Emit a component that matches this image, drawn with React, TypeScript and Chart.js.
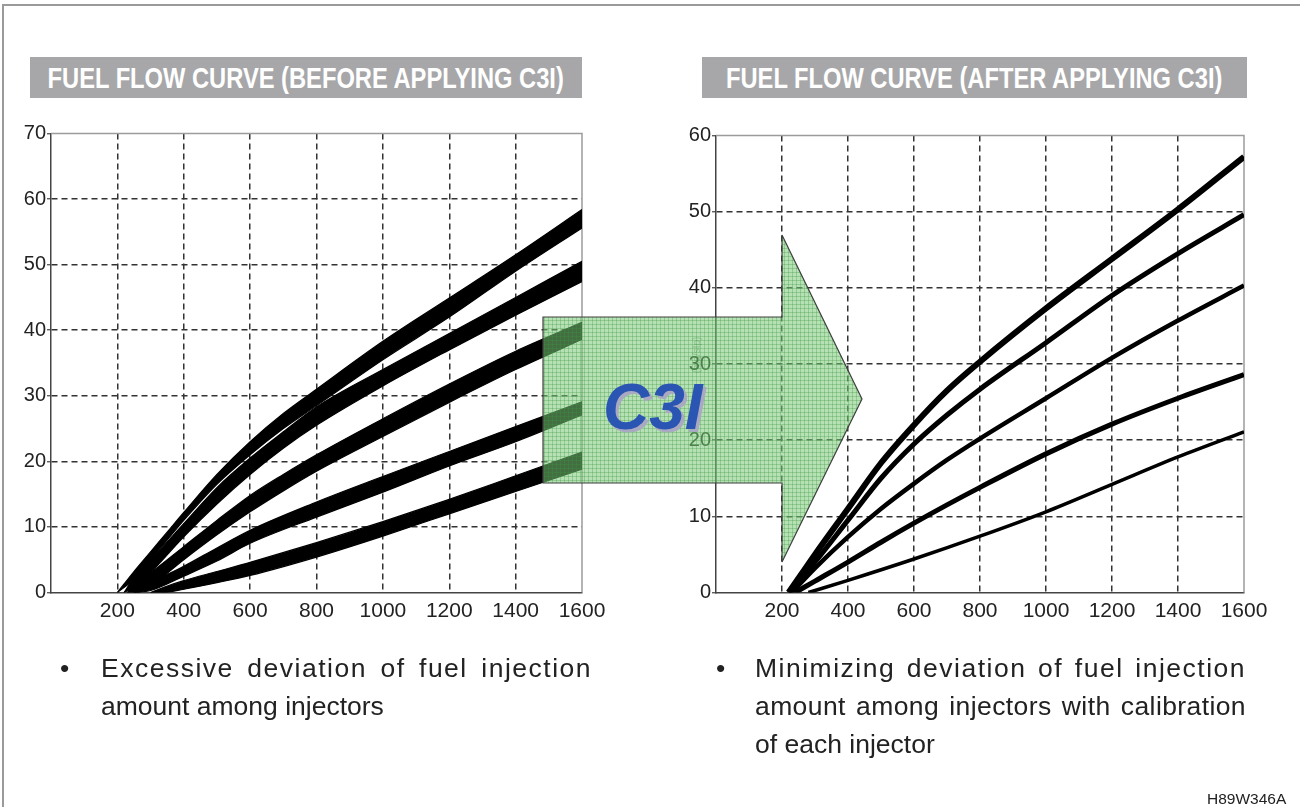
import React, { useEffect, useRef } from 'react';
import { Chart, registerables } from 'chart.js';

Chart.register(...registerables);

const FONT = '"Liberation Sans", Arial, Helvetica, sans-serif';

// ---------- shared axis values ----------
const xTickStep = 200;
const xMax = 1600;
const beforeYMax = 70;
const afterYMax = 60;
const yTickStep = 10;

// ---------- BEFORE (left) : five bundles, each given by upper / lower edge ----------
const beforeB1X = [200, 250, 300, 350, 400, 500, 600, 700, 800, 1000, 1200, 1400, 1600];
const beforeB1Top = [0, 3.2, 6.2, 9.2, 12.2, 18, 23, 27.3, 31, 38.3, 44.9, 51.5, 58.4];
const beforeB1Bottom = [0, 2, 5, 8, 11, 16.5, 21, 25, 28.5, 35.5, 42, 49, 55.6];

const beforeB2X = [220, 260, 300, 400, 500, 600, 700, 800, 1000, 1200, 1400, 1600];
const beforeB2Top = [0, 3, 5, 10.5, 16, 20.5, 24.5, 28.3, 34, 39.5, 45, 50.5];
const beforeB2Bottom = [0, 1, 3, 8.5, 13.5, 18, 22, 25.5, 31.5, 37, 42.3, 47.4];

const beforeB3X = [230, 260, 300, 400, 500, 600, 700, 800, 1000, 1200, 1400, 1600];
const beforeB3Top = [0, 1.5, 3, 7, 11, 14.8, 18, 21, 26.5, 31.8, 36.8, 41.2];
const beforeB3Bottom = [0, 0, 1, 5, 8.8, 12.3, 15.5, 18.5, 23.8, 29, 34, 38.6];

const beforeB4X = [250, 300, 400, 500, 600, 800, 1000, 1200, 1400, 1600];
const beforeB4Top = [0, 1.5, 4, 6.8, 9.5, 13.8, 17.7, 21.5, 25.3, 29.1];
const beforeB4Bottom = [0, 0.3, 2.5, 4.8, 7.5, 11.5, 15.3, 19.3, 23, 27.1];

const beforeB5X = [300, 340, 400, 500, 600, 800, 1000, 1200, 1400, 1600];
const beforeB5Top = [0, 0.8, 1.8, 3.2, 4.6, 7.6, 10.8, 14.2, 17.8, 21.4];
const beforeB5Bottom = [0, 0, 0.5, 1.5, 2.6, 5.4, 8.6, 12, 15.4, 18.8];

// ---------- AFTER (right) : five calibrated curves ----------
const afterAX = [220, 260, 300, 400, 500, 600, 700, 800, 1000, 1200, 1400, 1600];
const afterAY = [0, 2.5, 5, 11, 17, 22, 26.5, 30.3, 37.3, 43.8, 50.3, 57.2];

const afterBX = [220, 260, 300, 400, 500, 600, 700, 800, 1000, 1200, 1400, 1600];
const afterBY = [0, 2, 4, 9.5, 15, 19.5, 23.3, 26.7, 32.8, 39, 44.5, 49.6];

const afterCX = [230, 300, 400, 500, 600, 700, 800, 1000, 1200, 1400, 1600];
const afterCY = [0, 3.2, 7.3, 11, 14.3, 17.4, 20.2, 25.5, 30.8, 35.7, 40.3];

const afterDX = [240, 300, 400, 500, 600, 700, 800, 1000, 1200, 1400, 1600];
const afterDY = [0, 1.5, 4, 6.6, 9.1, 11.5, 13.8, 18.2, 22.1, 25.5, 28.6];

const afterEX = [280, 400, 600, 800, 1000, 1200, 1400, 1600];
const afterEY = [0, 1.6, 4.4, 7.4, 10.6, 14.2, 17.8, 21.1];

const beforeBands = [
  [beforeB1X, beforeB1Top, beforeB1Bottom],
  [beforeB2X, beforeB2Top, beforeB2Bottom],
  [beforeB3X, beforeB3Top, beforeB3Bottom],
  [beforeB4X, beforeB4Top, beforeB4Bottom],
  [beforeB5X, beforeB5Top, beforeB5Bottom],
];

const afterCurves = [
  [afterAX, afterAY, 6],
  [afterBX, afterBY, 5],
  [afterCX, afterCY, 4.5],
  [afterDX, afterDY, 5],
  [afterEX, afterEY, 3.5],
];

const toPts = (xs: number[], ys: number[]) => xs.map((x, i) => ({ x, y: ys[i] }));

const framePlugin = {
  id: 'frameTopRight',
  beforeDatasetsDraw(chart: any) {
    const { ctx, chartArea: a } = chart;
    ctx.save();
    ctx.strokeStyle = '#9c9c9c';
    ctx.lineWidth = 1.5;
    ctx.beginPath();
    ctx.moveTo(a.left, a.top);
    ctx.lineTo(a.right, a.top);
    ctx.lineTo(a.right, a.bottom);
    ctx.stroke();
    ctx.restore();
  },
};

function gridColor(max: number) {
  return (c: any) => {
    const v = c.tick ? c.tick.value : null;
    return v === 0 || v === max ? 'rgba(0,0,0,0)' : '#333';
  };
}

function makeConfig(opts: {
  datasets: any[];
  yMax: number;
  yAxisWidth: number;
  padTop: number;
  padRight: number;
  xAxisHeight: number;
}) {
  return {
    type: 'line',
    data: { datasets: opts.datasets },
    plugins: [framePlugin],
    options: {
      animation: false,
      responsive: false,
      events: [],
      layout: { padding: { top: opts.padTop, right: opts.padRight, left: 0, bottom: 0 } },
      plugins: { legend: { display: false }, tooltip: { enabled: false } },
      elements: { point: { radius: 0 } },
      scales: {
        x: {
          type: 'linear',
          min: 0,
          max: xMax,
          ticks: {
            stepSize: xTickStep,
            autoSkip: false,
            maxRotation: 0,
            padding: 6,
            color: '#222',
            font: { family: FONT, size: 21 },
            callback: (v: any) => (v === 0 ? '' : String(v)),
          },
          grid: { color: gridColor(xMax), lineWidth: 1.5, drawTicks: false },
          border: { display: true, color: '#444', width: 1.5, dash: [6, 4] },
          afterFit: (axis: any) => {
            axis.height = opts.xAxisHeight;
          },
        },
        y: {
          type: 'linear',
          min: 0,
          max: opts.yMax,
          ticks: {
            stepSize: yTickStep,
            padding: 1,
            color: '#222',
            font: { family: FONT, size: 20 },
          },
          grid: {
            color: gridColor(opts.yMax),
            lineWidth: 1.5,
            drawTicks: true,
            tickLength: 4,
            tickColor: '#444',
            tickWidth: 1.2,
          },
          border: { display: true, color: '#444', width: 1.5, dash: [6, 4] },
          afterFit: (axis: any) => {
            axis.width = opts.yAxisWidth;
          },
        },
      },
    },
  } as any;
}

function beforeDatasets() {
  const ds: any[] = [];
  beforeBands.forEach(([xs, top, bot]) => {
    ds.push({
      data: toPts(xs as number[], top as number[]),
      borderColor: '#000',
      borderWidth: 1.2,
      fill: false,
      cubicInterpolationMode: 'monotone',
      pointRadius: 0,
    });
    ds.push({
      data: toPts(xs as number[], bot as number[]),
      borderColor: '#000',
      borderWidth: 1.2,
      fill: '-1',
      backgroundColor: '#000',
      cubicInterpolationMode: 'monotone',
      pointRadius: 0,
    });
  });
  return ds;
}

function afterDatasets() {
  return afterCurves.map(([xs, ys, w]) => ({
    data: toPts(xs as number[], ys as number[]),
    borderColor: '#000',
    borderWidth: w as number,
    fill: false,
    cubicInterpolationMode: 'monotone',
    pointRadius: 0,
  }));
}

function ChartCanvas(props: { left: number; top: number; width: number; height: number; build: () => any }) {
  const ref = useRef<HTMLCanvasElement | null>(null);
  useEffect(() => {
    const chart = new Chart(ref.current as HTMLCanvasElement, props.build());
    return () => chart.destroy();
  }, []);
  return (
    <canvas
      ref={ref}
      width={props.width}
      height={props.height}
      style={{ position: 'absolute', left: props.left, top: props.top, width: props.width, height: props.height }}
    />
  );
}

const titleBox = (left: number, width: number, text: string) => (
  <div
    style={{
      position: 'absolute',
      left,
      top: 57,
      width,
      height: 41,
      background: '#a7a7a9',
      display: 'flex',
      justifyContent: 'center',
      alignItems: 'center',
      overflow: 'visible',
    }}
  >
    <span
      style={{
        display: 'inline-block',
        whiteSpace: 'nowrap',
        fontFamily: FONT,
        fontWeight: 'bold',
        fontSize: 30,
        lineHeight: '41px',
        color: '#fff',
        transform: 'scaleX(0.79)',
        transformOrigin: 'center',
      }}
    >
      {text}
    </span>
  </div>
);

const bodyText: React.CSSProperties = {
  fontFamily: FONT,
  fontSize: 26.5,
  lineHeight: '38px',
  color: '#222',
};

export default function App() {
  return (
    <div
      style={{
        position: 'absolute',
        left: 0,
        top: 0,
        width: 1300,
        height: 807,
        overflow: 'hidden',
        background: '#fff',
      }}
    >
      {/* frame of the figure */}
      <div style={{ position: 'absolute', left: 2, top: 4, width: 1300, height: 2, background: '#9a9a9a' }} />
      <div style={{ position: 'absolute', left: 2, top: 4, width: 2, height: 810, background: '#9a9a9a' }} />

      {titleBox(30, 552, 'FUEL FLOW CURVE (BEFORE APPLYING C3I)')}
      {titleBox(702, 545, 'FUEL FLOW CURVE (AFTER APPLYING C3I)')}

      <ChartCanvas
        left={0}
        top={100}
        width={620}
        height={540}
        build={() =>
          makeConfig({
            datasets: beforeDatasets(),
            yMax: beforeYMax,
            yAxisWidth: 51,
            padTop: 33.5,
            padRight: 38,
            xAxisHeight: 47.5,
          })
        }
      />
      <ChartCanvas
        left={660}
        top={100}
        width={620}
        height={540}
        build={() =>
          makeConfig({
            datasets: afterDatasets(),
            yMax: afterYMax,
            yAxisWidth: 56,
            padTop: 35.5,
            padRight: 36,
            xAxisHeight: 47.5,
          })
        }
      />

      {/* C3I arrow overlay */}
      <svg
        width={1300}
        height={807}
        style={{ position: 'absolute', left: 0, top: 0, pointerEvents: 'none' }}
      >
        <defs>
          <pattern id="c3iGrid" width="4" height="4" patternUnits="userSpaceOnUse">
            <rect width="4" height="4" fill="rgba(120,200,120,0.55)" />
            <path d="M0 0.5H4M0.5 0V4" stroke="rgba(60,150,60,0.3)" strokeWidth="1" />
          </pattern>
        </defs>
        <polygon
          points="543,317 782,317 782,235 862,399 782,562 782,483 543,483"
          fill="url(#c3iGrid)"
          stroke="#3f3f3f"
          strokeWidth="1.2"
        />
        <text
          x={700}
          y={355}
          transform="rotate(-90 700 355)"
          textAnchor="middle"
          fontFamily={FONT}
          fontSize={10}
          fill="rgba(60,130,60,0.35)"
        >
          (mg/stp)
        </text>
        <text
          x={606}
          y={432}
          fontFamily={FONT}
          fontWeight="bold"
          fontStyle="italic"
          fontSize={64}
          fill="#aaa9c2"
        >
          C3I
        </text>
        <text
          x={603}
          y={429}
          fontFamily={FONT}
          fontWeight="bold"
          fontStyle="italic"
          fontSize={64}
          fill="#2b55b3"
        >
          C3I
        </text>
      </svg>

      {/* bullet notes */}
      <div style={{ ...bodyText, position: 'absolute', left: 60, top: 649 }}>•</div>
      <div style={{ ...bodyText, position: 'absolute', left: 101, top: 649, width: 491 }}>
        <div style={{ textAlign: 'justify', textAlignLast: 'justify', letterSpacing: '1.5px' }}>
          Excessive deviation of fuel injection
        </div>
        <div>amount among injectors</div>
      </div>

      <div style={{ ...bodyText, position: 'absolute', left: 716, top: 649 }}>•</div>
      <div style={{ ...bodyText, position: 'absolute', left: 755, top: 649, width: 491 }}>
        <div style={{ textAlign: 'justify', textAlignLast: 'justify', letterSpacing: '1.5px' }}>
          Minimizing deviation of fuel injection
        </div>
        <div style={{ textAlign: 'justify', textAlignLast: 'justify', letterSpacing: '0.4px' }}>
          amount among injectors with calibration
        </div>
        <div>of each injector</div>
      </div>

      <div
        style={{
          position: 'absolute',
          left: 1207,
          top: 790,
          fontFamily: FONT,
          fontSize: 15.5,
          lineHeight: '17px',
          color: '#222',
          whiteSpace: 'nowrap',
        }}
      >
        H89W346A
      </div>
    </div>
  );
}
